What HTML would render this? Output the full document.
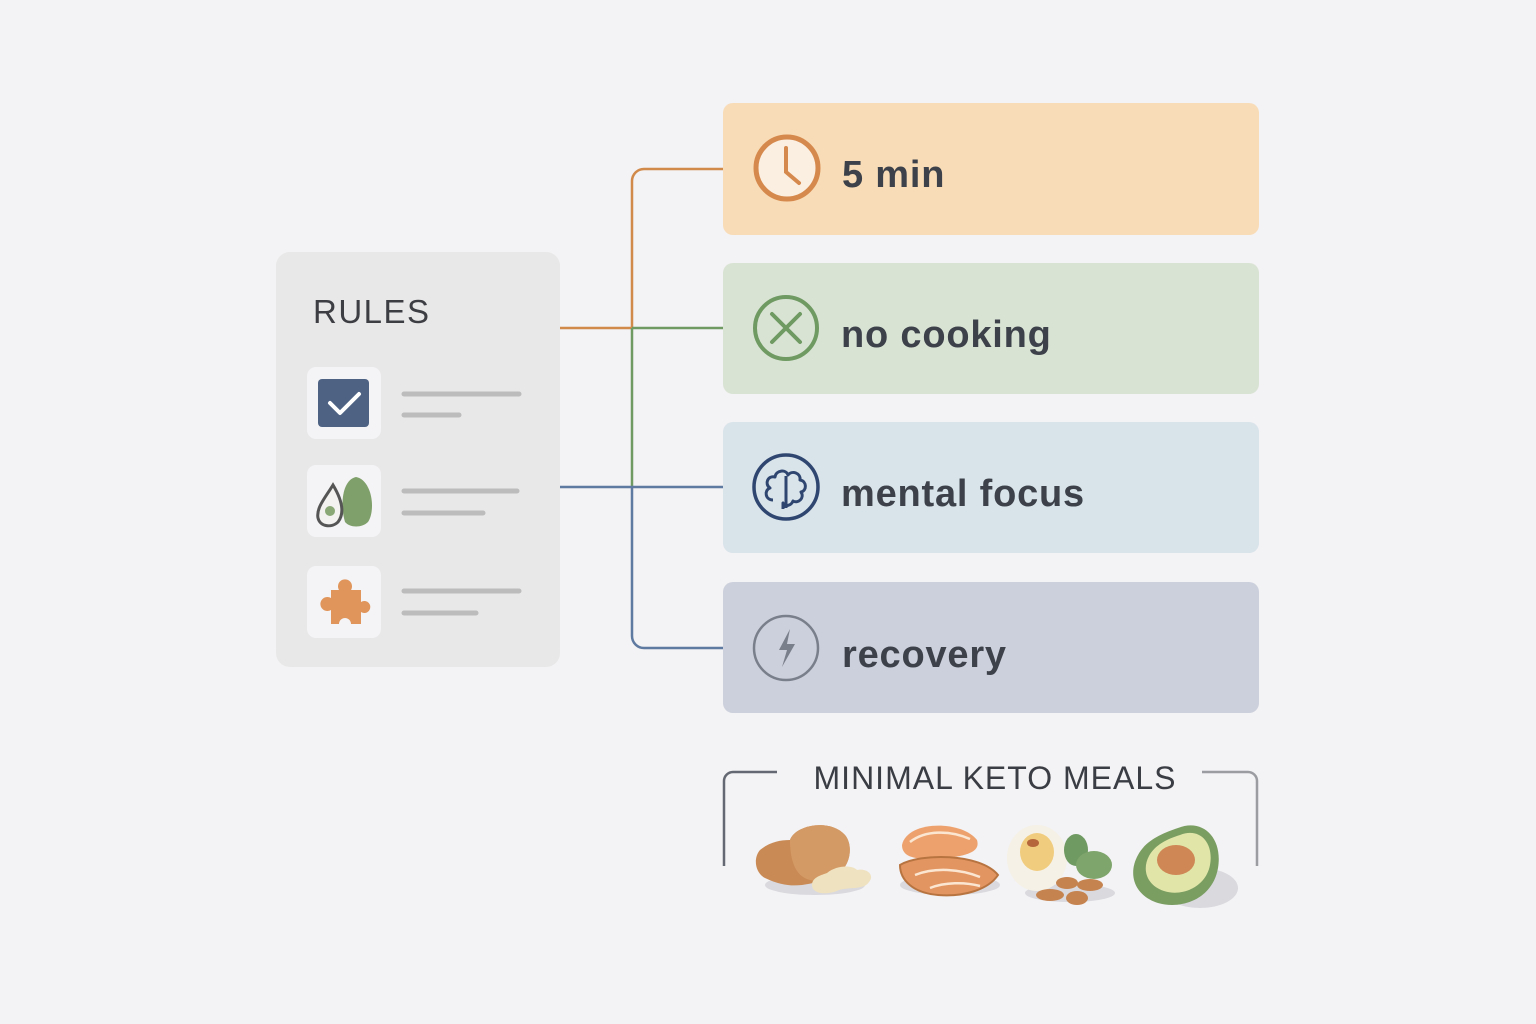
<!DOCTYPE html>
<html><head><meta charset="utf-8"><style>
html,body{margin:0;padding:0;background:#f3f2f4;}
svg{display:block}
text{font-family:"Liberation Sans","DejaVu Sans",sans-serif;}
</style></head><body>
<svg width="1536" height="1024" viewBox="0 0 1536 1024" xmlns="http://www.w3.org/2000/svg">
<rect width="1536" height="1024" fill="#f3f2f4"/>
<!-- rules card -->
<rect x="276" y="252" width="284" height="415" rx="14" fill="#e9e8e8"/>
<text x="313" y="323" font-size="33" fill="#3c3e44" letter-spacing="1.5">RULES</text>
<rect x="307" y="367" width="74" height="72" rx="9" fill="#f4f3f5"/>
<rect x="318" y="379" width="51" height="48" rx="4" fill="#4e6384"/>
<path d="M330 403 L340 413 L359 394" stroke="#fff" stroke-width="4" fill="none" stroke-linecap="round" stroke-linejoin="round"/>
<rect x="307" y="465" width="74" height="72" rx="9" fill="#f4f3f5"/>
<path d="M356 477 C372 480 376 510 368 522 C362 528 350 528 345 522 C340 505 342 480 356 477Z" fill="#7fa06a"/>
<path d="M333 485 C325 498 316 508 318 518 C320 527 332 528 338 522 C345 513 342 500 333 485Z" fill="#f3f2f0" stroke="#555" stroke-width="3"/>
<circle cx="330" cy="511" r="5" fill="#8aa876"/>
<rect x="307" y="566" width="74" height="72" rx="9" fill="#f4f3f5"/>
<path d="M331 590 h8 a7 7 0 1 1 12 0 h10 v12 a6 6 0 1 1 0 10 v12 h-10 a6 6 0 1 0 -12 0 h-8 v-14 a7 7 0 1 1 0 -12 z" fill="#e0955a"/>
<g stroke="#bdbcbc" stroke-width="5" stroke-linecap="round">
<line x1="404" y1="394" x2="519" y2="394"/><line x1="404" y1="415" x2="459" y2="415"/>
<line x1="404" y1="491" x2="517" y2="491"/><line x1="404" y1="513" x2="483" y2="513"/>
<line x1="404" y1="591" x2="519" y2="591"/><line x1="404" y1="613" x2="476" y2="613"/>
</g>
<!-- connectors -->
<g fill="none" stroke-width="2.5">
<path d="M560 328 H632 V181 a12 12 0 0 1 12 -12 H723" stroke="#d28a4a"/>
<path d="M632 328 H723 M632 328 V487" stroke="#6f9a62"/>
<path d="M560 487 H723 M632 487 V636 a12 12 0 0 0 12 12 H723" stroke="#5f7aa0"/>
</g>
<!-- cards -->
<rect x="723" y="103" width="536" height="132" rx="10" fill="#f8dcb7"/>
<rect x="723" y="263" width="536" height="131" rx="10" fill="#d9e3d4"/>
<rect x="723" y="422" width="536" height="131" rx="10" fill="#d8e3ea"/>
<rect x="723" y="582" width="536" height="131" rx="10" fill="#ccd0dc"/>
<circle cx="787" cy="168" r="31" fill="#fbefe2" stroke="#d6894c" stroke-width="5"/>
<path d="M786 148 V172 L799 183" stroke="#d6894c" stroke-width="4" fill="none" stroke-linecap="round"/>
<circle cx="786" cy="328" r="31" fill="none" stroke="#6f9a62" stroke-width="4"/>
<path d="M772 314 L800 342 M800 314 L772 342" stroke="#6f9a62" stroke-width="4" stroke-linecap="round"/>
<circle cx="786" cy="487" r="32" fill="none" stroke="#2f4670" stroke-width="3.5"/>
<path d="M773 500 c-8 0 -9 -10 -3 -12 c-6 -4 -2 -13 5 -11 c1 -7 11 -8 13 -2 c4 -5 13 -2 12 5 c7 1 7 11 1 12 c4 6 -3 12 -8 9 c-2 5 -8 6 -10 2 v6 M786 476 v32" stroke="#2f4670" stroke-width="3" fill="none" stroke-linejoin="round"/>
<circle cx="786" cy="648" r="32" fill="none" stroke="#7a7f8c" stroke-width="2.5"/>
<path d="M790 629 L779 650 H787 L782 667 L795 644 H787 Z" fill="#7a7f8c"/>
<g font-size="38" font-weight="bold" fill="#3d424a" letter-spacing="0.8">
<text x="842" y="187">5 min</text>
<text x="841" y="347">no cooking</text>
<text x="841" y="506">mental focus</text>
<text x="842" y="667">recovery</text>
</g>
<!-- bottom bracket -->
<path d="M777 772 H733 a9 9 0 0 0 -9 9 V866" stroke="#646872" stroke-width="2.5" fill="none"/>
<path d="M1202 772 H1248 a9 9 0 0 1 9 9 V866" stroke="#9a9ca2" stroke-width="2.5" fill="none"/>
<text x="995" y="789" font-size="32" fill="#3a3d44" text-anchor="middle" letter-spacing="1">MINIMAL KETO MEALS</text>
<!-- foods -->
<ellipse cx="815" cy="885" rx="50" ry="10" fill="#d9d9de"/>
<path d="M760 850 c10 -8 20 -10 30 -10 c5 -15 40 -22 55 -5 c10 12 5 40 -20 45 c-20 5 -35 10 -60 -2 c-10 -5 -12 -20 -5 -28z" fill="#c98a55"/>
<path d="M790 840 c5 -15 40 -22 55 -5 c10 12 5 40 -20 45 c-15 3 -35 0 -35 -40z" fill="#d49a65"/>
<path d="M812 885 c0 -8 10 -10 15 -12 c10 -8 25 -8 30 -3 c10 -2 18 5 12 12 c-5 8 -20 5 -30 8 c-10 5 -27 5 -27 -5z" fill="#efe2c0"/>
<ellipse cx="950" cy="885" rx="50" ry="10" fill="#d9d9de"/>
<path d="M902 845 c5 -25 60 -25 75 -5 c3 10 -5 15 -30 18 c-25 2 -45 2 -45 -13z" fill="#eda26e"/>
<path d="M900 865 c20 -12 80 -12 98 10 c-10 15 -35 22 -60 20 c-25 -2 -38 -15 -38 -30z" fill="#e39561" stroke="#b87440" stroke-width="2"/>
<g stroke="#fbe6d2" stroke-width="2.5" fill="none"><path d="M910 842 c15 -12 40 -12 60 -3"/><path d="M915 875 c20 -8 45 -6 65 2"/><path d="M930 888 c15 -6 35 -6 50 -2"/></g>
<ellipse cx="1070" cy="893" rx="45" ry="9" fill="#d9d9de"/>
<ellipse cx="1037" cy="858" rx="30" ry="33" fill="#f6f1e6"/>
<ellipse cx="1037" cy="852" rx="17" ry="19" fill="#f0cc7e"/>
<ellipse cx="1033" cy="843" rx="6" ry="4" fill="#b5663b"/>
<ellipse cx="1076" cy="850" rx="12" ry="16" fill="#6f9a62"/>
<ellipse cx="1094" cy="865" rx="18" ry="14" fill="#7ea56b"/>
<g fill="#c5834f"><ellipse cx="1067" cy="883" rx="11" ry="6"/><ellipse cx="1090" cy="885" rx="13" ry="6"/><ellipse cx="1050" cy="895" rx="14" ry="6"/><ellipse cx="1077" cy="898" rx="11" ry="7"/></g>
<ellipse cx="1200" cy="888" rx="38" ry="20" fill="#d9d9de"/>
<path d="M1178 828 c25 -10 45 10 40 40 c-5 30 -35 42 -60 35 c-25 -8 -30 -30 -20 -48 c8 -15 25 -22 40 -27z" fill="#7a9d62"/>
<path d="M1180 835 c20 -8 34 8 30 30 c-4 22 -28 32 -46 26 c-18 -6 -22 -22 -15 -35 c6 -11 18 -17 31 -21z" fill="#e1e6a8"/>
<ellipse cx="1176" cy="860" rx="19" ry="15" fill="#cf8756"/>
</svg>
</body></html>
